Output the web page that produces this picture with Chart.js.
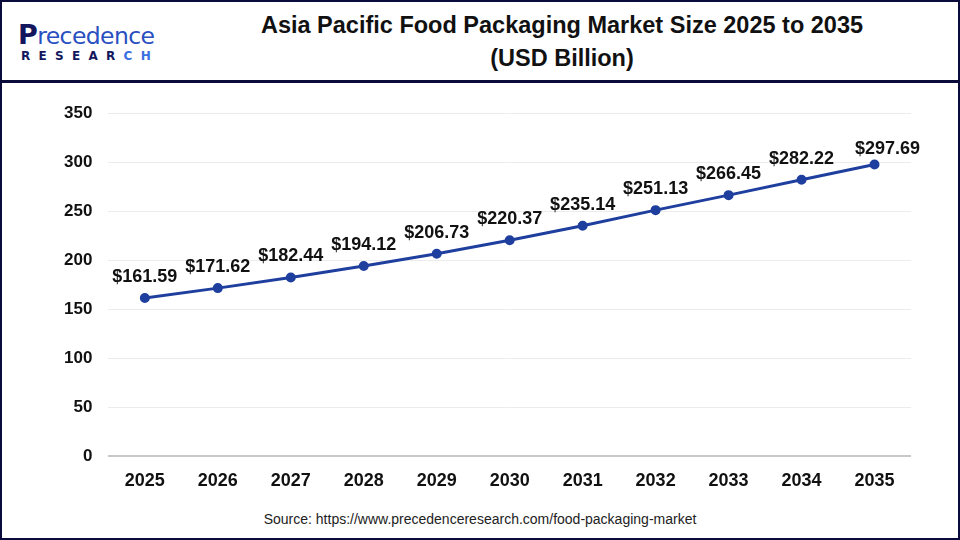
<!DOCTYPE html>
<html>
<head>
<meta charset="utf-8">
<script src="https://cdn.jsdelivr.net/npm/chart.js@4.4.1/dist/chart.umd.min.js"></script>
<style>
  html, body { margin: 0; padding: 0; background: #fff; }
  #frame {
    position: relative; width: 956px; height: 536px;
    border: 2px solid #0b0b3b; font-family: "Liberation Sans", Arial, sans-serif;
  }
  #header { position: absolute; left: 0; top: 0; width: 956px; height: 78px; border-bottom: 3px solid #0b0b3b; z-index: 1; }
  #logo { position: absolute; left: 16px; top: 20px; }
  #logo .big { font-family: "DejaVu Sans", sans-serif; font-size: 23.5px; color: #2a4fc0; letter-spacing: -0.6px; line-height: 26px; }
  #logo .big b { color: #14175e; font-weight: bold; font-size: 27px; }
  #logo .small { font-family: "DejaVu Sans", sans-serif; font-weight: bold; font-size: 12px; color: #14175e; letter-spacing: 8.3px; margin-top: 0px; margin-left: 3px; }
  #logo .small span { color: #3a6fe0; }
  #title { position: absolute; left: 200px; width: 720px; top: 7px; text-align: center; font-weight: bold; font-size: 23.5px; line-height: 33px; color: #111; }
  #wrap { position: absolute; left: 0; top: 85px; width: 956px; height: 411px; }
  #source { position: absolute; left: 0; width: 956px; top: 509px; text-align: center; font-size: 14px; color: #222; }
</style>
</head>
<body>
<div id="frame">
  <div id="header">
    <div id="logo">
      <div class="big"><b>P</b>recedence</div>
      <div class="small">RESEAR<span>CH</span></div>
    </div>
    <div id="title">Asia Pacific Food Packaging Market Size 2025 to 2035<br>(USD Billion)</div>
  </div>
  <div id="wrap"><canvas id="chart"></canvas></div>
  <div id="source">Source: https://www.precedenceresearch.com/food-packaging-market</div>
</div>
<script>
// Market size by year (USD Billion)
const years = ['2025', '2026', '2027', '2028', '2029', '2030', '2031', '2032', '2033', '2034', '2035'];
const marketSize = [161.59, 171.62, 182.44, 194.12, 206.73, 220.37, 235.14, 251.13, 266.45, 282.22, 297.69];
const yTicks = [0, 50, 100, 150, 200, 250, 300, 350];

// draws "$value" above every point
const valueLabels = {
  id: 'valueLabels',
  afterDatasetsDraw(chart) {
    const ctx = chart.ctx;
    const meta = chart.getDatasetMeta(0);
    ctx.save();
    ctx.font = 'bold 18px "Liberation Sans", Arial, sans-serif';
    ctx.fillStyle = '#111';
    ctx.textAlign = 'center';
    ctx.textBaseline = 'middle';
    meta.data.forEach((pt, i) => {
      const last = i === meta.data.length - 1;
      const x = last ? pt.x + 13 : pt.x;
      const y = last ? pt.y - 15 : pt.y - 21;
      ctx.fillText('$' + marketSize[i].toFixed(2), x, y);
    });
    ctx.restore();
  }
};

const ctx = document.getElementById('chart').getContext('2d');
new Chart(ctx, {
  type: 'line',
  data: {
    labels: years,
    datasets: [{
      data: marketSize,
      borderColor: '#1f3f9f',
      backgroundColor: '#1f3f9f',
      borderWidth: 3,
      pointRadius: 3.5,
      pointBackgroundColor: '#1f3f9f',
      tension: 0
    }]
  },
  options: {
    responsive: true,
    maintainAspectRatio: false,
    animation: false,
    layout: { padding: { left: 46, right: 47, top: 7, bottom: 0 } },
    plugins: { legend: { display: false }, tooltip: { enabled: false } },
    scales: {
      x: {
        offset: true,
        grid: { display: false },
        border: { display: false },
        ticks: { color: '#111', font: { size: 18, weight: 'bold', family: '"Liberation Sans", Arial, sans-serif' }, padding: 6 }
      },
      y: {
        min: 0, max: 350,
        afterBuildTicks: axis => { axis.ticks = yTicks.map(v => ({ value: v })); },
        grid: {
          color: ctx => ctx.tick.value === 0 ? '#c8c8c8' : '#ececec',
          lineWidth: ctx => ctx.tick.value === 0 ? 2 : 1,
          drawTicks: false
        },
        border: { display: false },
        ticks: { color: '#111', font: { size: 17, weight: 'bold', family: '"Liberation Sans", Arial, sans-serif' }, padding: 16 }
      }
    }
  },
  plugins: [valueLabels]
});
</script>
</body>
</html>
